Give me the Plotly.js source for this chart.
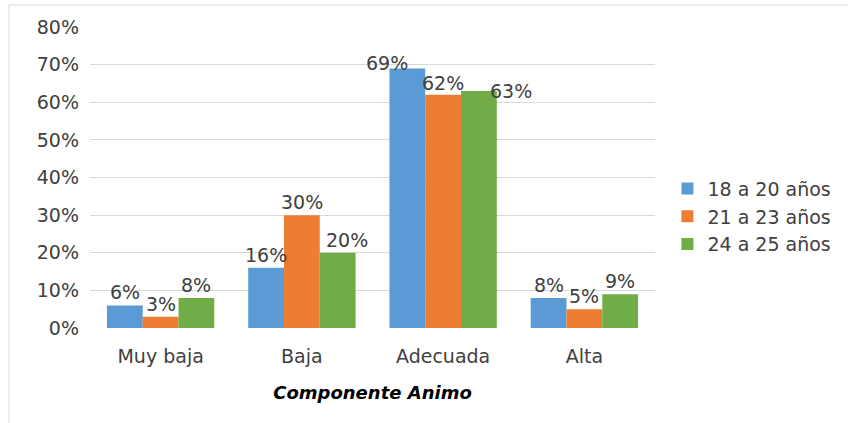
<!DOCTYPE html>
<html><head><meta charset="utf-8">
<script src="https://cdn.plot.ly/plotly-3.0.1.min.js"></script>
<style>body{margin:0;background:#fff}#c{width:848px;height:423px}</style>
</head><body><div id="c"></div>
<script>
const categories = ["Muy baja", "Baja", "Adecuada", "Alta"];
const seriesNames = ["18 a 20 años", "21 a 23 años", "24 a 25 años"];
const s1 = [6, 16, 69, 8];
const s2 = [3, 30, 62, 5];
const s3 = [8, 20, 63, 9];
const colors = ["#5B9BD5", "#ED7D31", "#70AD47"];
const tickVals = [0, 10, 20, 30, 40, 50, 60, 70, 80];
const tickText = ["0%", "10%", "20%", "30%", "40%", "50%", "60%", "70%", "80%"];

// label placement (style only): pixel offset of each series' bar in its group,
// plus small nudges that keep overlapping labels apart as in the reference
const barOffsetPx = [-35.8, 0, 35.8];
const labelNudgeX = [[0, 0, -20, 0], [0, 0, 0, 0], [0, 9, 32, 0]];
const labelNudgeY = [[0, 0, -8, 0], [0, 0, -1, 0], [0, 0, -13, 0]];

const font = "DejaVu Sans, sans-serif";
const series = [s1, s2, s3];
const data = series.map((vals, i) => ({
  type: "bar",
  name: seriesNames[i],
  x: categories,
  y: vals,
  marker: {color: colors[i]},
  hoverinfo: "skip"
}));

const annotations = [];
series.forEach((vals, i) => {
  vals.forEach((v, j) => {
    annotations.push({
      x: categories[j], y: v, xref: "x", yref: "y",
      text: v + "%", showarrow: false,
      xanchor: "center", yanchor: "bottom",
      xshift: barOffsetPx[i] + labelNudgeX[i][j], yshift: labelNudgeY[i][j],
      font: {family: font, size: 19, color: "#404040"}
    });
  });
});

const layout = {
  width: 848, height: 423,
  margin: {l: 90, r: 193, t: 27, b: 95},
  paper_bgcolor: "#fff", plot_bgcolor: "#fff",
  barmode: "group", bargap: 0.24, bargroupgap: 0,
  font: {family: font, size: 19, color: "#404040"},
  xaxis: {
    showgrid: false, zeroline: false, showline: false, ticks: "",
    ticklabelstandoff: 15,
    tickfont: {family: font, size: 19, color: "#404040"},
    title: {text: "<b><i>Componente Animo</i></b>", standoff: 20,
            font: {family: font, size: 18, color: "#000"}}
  },
  yaxis: {
    range: [0, 80], tickvals: tickVals, ticktext: tickText,
    showgrid: true, gridcolor: "#D9D9D9", gridwidth: 1,
    zeroline: false, showline: false, ticks: "",
    ticklabelstandoff: 10,
    tickfont: {family: font, size: 19, color: "#404040"}
  },
  legend: {
    x: 1.022, y: 0.37, xanchor: "left", yanchor: "middle",
    font: {family: font, size: 19, color: "#404040"},
    itemwidth: 30, tracegroupgap: 0
  },
  annotations: annotations,
  shapes: [{
    type: "rect", xref: "paper", yref: "paper",
    x0: -0.1434, x1: 2, y0: -1, y1: 1.073,
    line: {color: "#D9D9D9", width: 1}, fillcolor: "rgba(0,0,0,0)", layer: "below"
  }]
};
Plotly.newPlot("c", data, layout, {staticPlot: true});
</script></body></html>
